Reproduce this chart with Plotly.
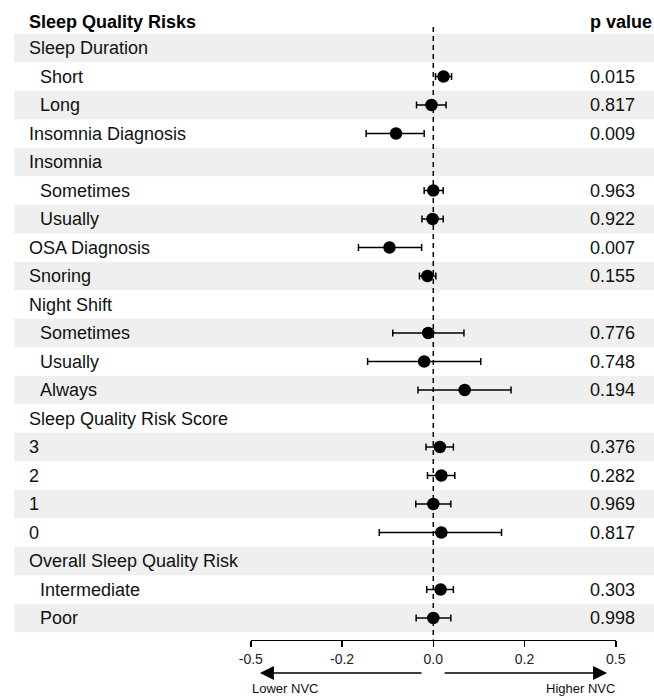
import plotly.graph_objects as go

# ---------------- data ----------------
labels = ["Sleep Duration", "Short", "Long", "Insomnia Diagnosis", "Insomnia",
          "Sometimes", "Usually", "OSA Diagnosis", "Snoring", "Night Shift",
          "Sometimes", "Usually", "Always", "Sleep Quality Risk Score",
          "3", "2", "1", "0", "Overall Sleep Quality Risk", "Intermediate", "Poor"]
indent = [0, 1, 1, 0, 0, 1, 1, 0, 0, 0, 1, 1, 1, 0, 0, 0, 0, 0, 0, 1, 1]
estimate = [None, 0.028, -0.005, -0.102, None, 0.000, -0.002, -0.120, -0.016, None,
            -0.014, -0.025, 0.086, None, 0.018, 0.022, 0.000, 0.022, None, 0.020, 0.000]
ci_low = [None, 0.006, -0.046, -0.184, None, -0.025, -0.031, -0.205, -0.038, None,
          -0.111, -0.180, -0.042, None, -0.020, -0.016, -0.048, -0.148, None, -0.018, -0.047]
ci_high = [None, 0.050, 0.035, -0.025, None, 0.027, 0.027, -0.032, 0.007, None,
           0.084, 0.130, 0.213, None, 0.055, 0.059, 0.048, 0.187, None, 0.055, 0.048]
p_values = ["", "0.015", "0.817", "0.009", "", "0.963", "0.922", "0.007", "0.155", "",
            "0.776", "0.748", "0.194", "", "0.376", "0.282", "0.969", "0.817", "", "0.303", "0.998"]
tick_vals = [-0.5, -0.25, 0.0, 0.25, 0.5]
tick_text = ["-0.5", "-0.2", "0.0", "0.2", "0.5"]

FONT = "Liberation Sans, Arial, Helvetica, sans-serif"
W, H = 654, 697
ROW0, PITCH = 48.0, 28.5


def row_of(px):
    return (px - ROW0) / PITCH


rows = list(range(len(labels)))
err_plus = [None if e is None else h - e for e, h in zip(estimate, ci_high)]
err_minus = [None if e is None else e - l for e, l in zip(estimate, ci_low)]

fig = go.Figure()
fig.add_trace(go.Scatter(
    x=estimate, y=rows, mode="markers",
    marker=dict(color="black", size=12.5),
    error_x=dict(type="data", symmetric=False, array=err_plus, arrayminus=err_minus,
                 color="black", thickness=1.5, width=3.5),
    showlegend=False, hoverinfo="skip", cliponaxis=False,
))

shapes = []
for i in rows:
    if i % 2 == 0:
        shapes.append(dict(type="rect", xref="paper", yref="y", x0=14 / W, x1=1,
                           y0=i - 0.5, y1=i + 0.5, fillcolor="#efefef",
                           line=dict(width=0), layer="below"))
shapes.append(dict(type="line", xref="x", yref="y", x0=0, x1=0,
                   y0=row_of(27), y1=row_of(639.5),
                   line=dict(color="black", width=1.5, dash="5px,4px"), layer="below"))

annotations = []
annotations.append(dict(text="<b>Sleep Quality Risks</b>", xref="paper", yref="y",
                        x=27 / W, y=row_of(22), xanchor="left", yanchor="middle",
                        showarrow=False, font=dict(family=FONT, size=18, color="black")))
annotations.append(dict(text="<b>p value</b>", xref="paper", yref="y",
                        x=588 / W, y=row_of(22), xanchor="left", yanchor="middle",
                        showarrow=False, font=dict(family=FONT, size=18, color="black")))
for i, (lab, ind, p) in enumerate(zip(labels, indent, p_values)):
    annotations.append(dict(text=lab, xref="paper", yref="y",
                            x=(38 if ind else 27) / W, y=i, xanchor="left", yanchor="middle",
                            showarrow=False, font=dict(family=FONT, size=18, color="#111111")))
    if p:
        annotations.append(dict(text=p, xref="paper", yref="y",
                                x=588 / W, y=i, xanchor="left", yanchor="middle",
                                showarrow=False, font=dict(family=FONT, size=18, color="#111111")))

# direction arrows
arrow_y = row_of(673)
annotations.append(dict(text="", x=-0.475, y=arrow_y, ax=-0.028, ay=arrow_y,
                        xref="x", yref="y", axref="x", ayref="y", showarrow=True,
                        arrowhead=2, arrowsize=2.0, arrowwidth=1.4, arrowcolor="black",
                        standoff=0, startstandoff=0))
annotations.append(dict(text="", x=0.476, y=arrow_y, ax=0.027, ay=arrow_y,
                        xref="x", yref="y", axref="x", ayref="y", showarrow=True,
                        arrowhead=2, arrowsize=2.0, arrowwidth=1.4, arrowcolor="black",
                        standoff=0, startstandoff=0))
annotations.append(dict(text="Lower NVC", xref="paper", yref="y", x=285 / W, y=row_of(688),
                        xanchor="center", yanchor="middle", showarrow=False,
                        font=dict(family=FONT, size=13, color="#111111")))
annotations.append(dict(text="Higher NVC", xref="paper", yref="y", x=580 / W, y=row_of(688),
                        xanchor="center", yanchor="middle", showarrow=False,
                        font=dict(family=FONT, size=13, color="#111111")))

fig.update_layout(
    template="none",
    width=W, height=H,
    margin=dict(l=0, r=0, t=0, b=0, pad=0, autoexpand=False),
    paper_bgcolor="white", plot_bgcolor="rgba(0,0,0,0)",
    font=dict(family=FONT, color="#111111"),
    shapes=shapes, annotations=annotations,
    xaxis=dict(domain=[250.8 / W, 615.8 / W], range=[-0.5, 0.5],
               anchor="free", position=(H - 639.5) / H, automargin=False,
               showline=True, linecolor="black", linewidth=1.5,
               ticks="outside", ticklen=6, tickwidth=1.5, tickcolor="black",
               tickvals=tick_vals, ticktext=tick_text,
               tickfont=dict(family=FONT, size=14, color="#222222"),
               showgrid=False, zeroline=False, fixedrange=True),
    yaxis=dict(domain=[0, 1], range=[row_of(H), row_of(0)], visible=False, automargin=False,
               showgrid=False, zeroline=False, fixedrange=True),
)

fig.write_html("out.html",
               config={"displayModeBar": False, "staticPlot": True},
               post_script="document.body.style.margin='0';document.body.style.overflow='hidden';")
